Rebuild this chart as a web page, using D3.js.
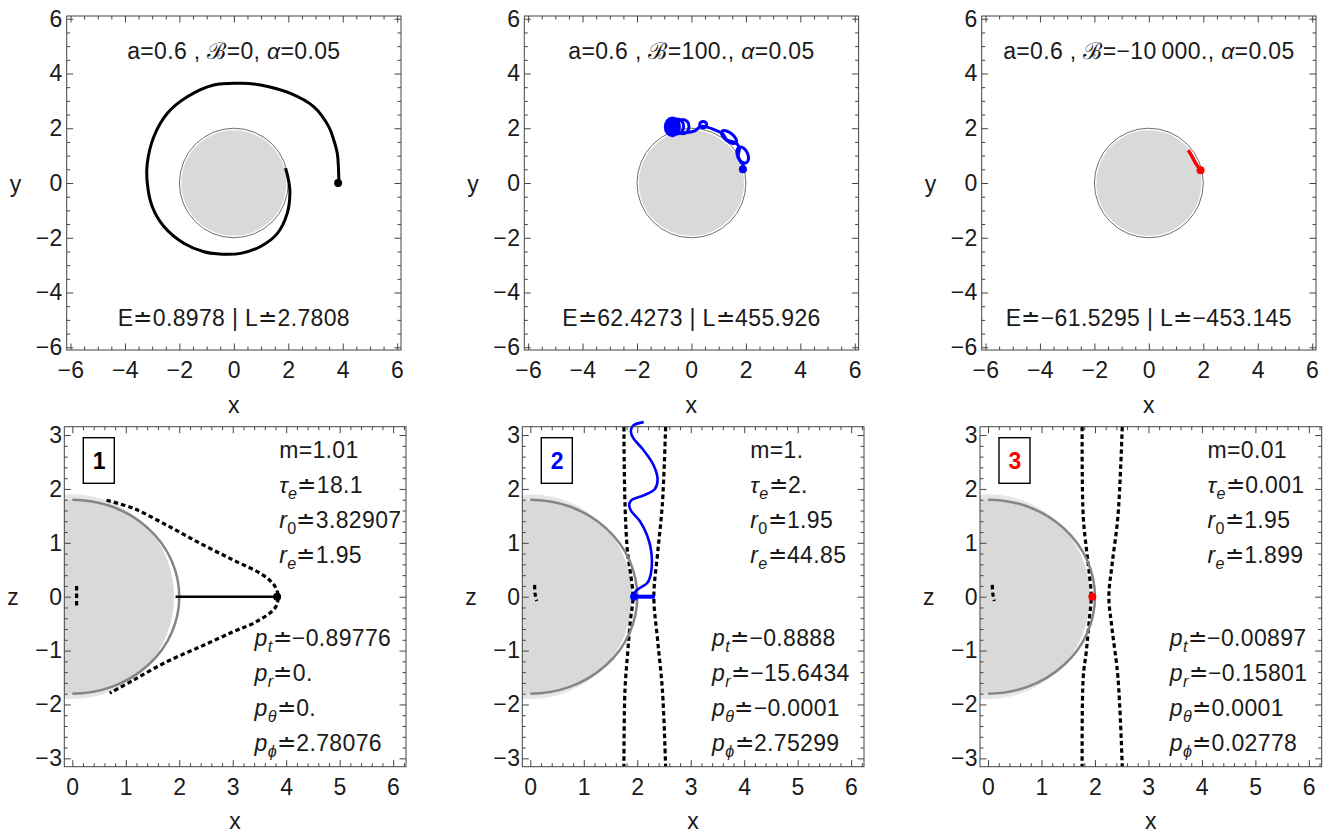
<!DOCTYPE html>
<html>
<head>
<meta charset="utf-8">
<script src="https://cdn.jsdelivr.net/npm/d3@7"></script>
<style>
  body { margin: 0; background: #fff; }
  svg text { font-family: "Liberation Sans", Arial, sans-serif; letter-spacing: 0.35px; fill: #1a1a1a; }
</style>
</head>
<body>
<svg width="1329" height="836"></svg>
<script>
// ---------- data ----------
var topTicks = [-6, -4, -2, 0, 2, 4, 6];
var botXTicks = [0, 1, 2, 3, 4, 5, 6];
var botYTicks = [-3, -2, -1, 0, 1, 2, 3];

var titles = [
  [['a=0.6 , '], ['ℬ'], ['=0, '], ['α', 'i'], ['=0.05']],
  [['a=0.6 , '], ['ℬ'], ['=100., '], ['α', 'i'], ['=0.05']],
  [['a=0.6 , '], ['ℬ'], ['=−10\u2009000., '], ['α', 'i'], ['=0.05']]
];
var energies = ['E≐0.8978 | L≐2.7808', 'E≐62.4273 | L≐455.926', 'E≐−61.5295 | L≐−453.145'];

// top row (x, y) trajectories
var spiralXY = [[3.86,0],[3.84,0.6],[3.80,1.08],[3.67,1.57],[3.49,2.05],[2.94,2.78],[2.08,3.27],[0.98,3.58],
  [0.25,3.64],[-0.74,3.58],[-1.71,3.15],[-2.45,2.54],[-2.94,1.69],[-3.18,0.72],[-3.18,0],[-3.0,-0.86],
  [-2.57,-1.59],[-1.84,-2.2],[-1.10,-2.51],[-0.43,-2.60],[0.25,-2.57],[0.98,-2.32],[1.60,-1.84],
  [1.96,-1.11],[2.06,-0.38],[2.02,0.05],[1.90,0.54]];
var blueXY = [[1.89,0.50],[1.90,0.66],[1.80,0.78],[1.72,1.0],[1.76,1.27],[1.63,1.47],[1.31,1.57],[1.14,1.80],
  [0.85,1.94],[0.55,2.05],[0.33,2.06],[0.12,1.90],[-0.12,1.85],[-0.35,1.83],[-0.55,1.85]];
// loops of the blue orbit: cx, cy, rx, ry, tilt (deg), dense coil
var blueLoops = [[1.88,1.02,0.19,0.31,-25,0],[1.38,1.68,0.33,0.15,38,0],[0.43,2.13,0.13,0.12,0,0],
  [-0.31,2.06,0.22,0.26,0,0],[-0.50,2.07,0.21,0.27,0,0],[-0.70,2.05,0.26,0.32,0,1]];
var redXY = [[1.90,0.47],[1.72,0.72],[1.58,0.98],[1.45,1.20]];
var startXY = [[3.83,0],[1.89,0.50],[1.90,0.47]];
var trajColors = ['#000000', '#0000ff', '#ff0000'];

// bottom row (x, z)
var boxLabels = ['1', '2', '3'];
var mVals = ['1.01', '1.', '0.01'];
var tauVals = ['18.1', '2.', '0.001'];
var r0Vals = ['3.82907', '1.95', '1.95'];
var reVals = ['1.95', '44.85', '1.899'];
var ptVals = ['−0.89776', '−0.8888', '−0.00897'];
var prVals = ['0.', '−15.6434', '−0.15801'];
var pthVals = ['0.', '−0.0001', '0.0001'];
var pphVals = ['2.78076', '2.75299', '0.02778'];

var dash1 = [[0.64,1.79],[1.14,1.64],[1.76,1.33],[2.39,0.99],[3.01,0.68],[3.57,0.40],[3.79,0.19],[3.85,0],
  [3.79,-0.21],[3.45,-0.46],[3.01,-0.65],[2.39,-0.93],[1.76,-1.21],[1.14,-1.55],[0.70,-1.79]];
var dashL2 = [[1.75,3.15],[1.77,1.73],[1.82,0.8],[1.87,0.46],[1.92,0],[1.87,-0.46],[1.82,-1.05],[1.77,-1.73],[1.75,-3.15]];
var dashR2 = [[2.53,3.15],[2.47,1.73],[2.38,0.8],[2.31,0],[2.38,-0.8],[2.47,-1.73],[2.53,-3.15]];
var dashL3 = [[1.76,3.15],[1.78,1.5],[1.85,0.8],[1.89,0.46],[1.93,0],[1.89,-0.46],[1.84,-1.0],[1.78,-1.5],[1.76,-3.15]];
var dashR3 = [[2.51,3.15],[2.43,1.5],[2.32,0.6],[2.26,0],[2.32,-0.6],[2.43,-1.5],[2.51,-3.15]];
var innerDash = [[[0.08,0.2],[0.08,-0.2]], [[0.08,0.22],[0.09,0.05],[0.12,-0.08]], [[0.08,0.22],[0.09,0.05],[0.12,-0.08]]];
var planeXZ = [[1.93,0],[3.83,0]];
var blueXZ = [[1.95,0.02],[1.97,0.1],[2.06,0.17],[2.19,0.26],[2.26,0.46],[2.26,0.85],[2.18,1.15],[2.05,1.40],
  [1.88,1.60],[1.85,1.72],[1.90,1.80],[2.12,1.88],[2.33,2.0],[2.38,2.18],[2.30,2.45],[2.10,2.74],[1.92,2.95],
  [1.88,3.08],[1.93,3.18],[2.12,3.24]];
var blueBarXZ = [[1.94,0],[2.33,0]];
var startXZ = [[3.83,0],[1.94,0],[1.95,0]];

var horizonR = 1.9, ergoEq = 2.0, ergoPole = 1.8;

// ---------- layout ----------
var svg = d3.select('svg');
var topX0 = [66.7, 524.3, 981.7], TOPW = 334.3, TOPY0 = 16, TOPY1 = 350;
var botX0 = [64.3, 522.3, 980], BOTW = 341.7, BOTY0 = 426.7, BOTY1 = 766.7;
var FS = 23;
var TICK = '#444';
var fmt = d3.format('d');

function minorOf(lo, hi, step, majors) {
  return d3.range(lo, hi + 1e-9, step).filter(function(v) {
    return !majors.some(function(m) { return Math.abs(m - v) < 1e-6; });
  });
}

function frame(g, x, y, xt, xm, yt, ym, padX, padY) {
  var r = x.range(), d = y.range();
  var bottom = g.append('g').attr('transform', 'translate(0,' + d[0] + ')')
    .call(d3.axisBottom(x).tickValues(xt).tickFormat(fmt).tickSize(-6.5).tickPadding(padX));
  var left = g.append('g').attr('transform', 'translate(' + r[0] + ',0)')
    .call(d3.axisLeft(y).tickValues(yt).tickFormat(fmt).tickSize(-6.5).tickPadding(padY));
  [bottom, left].forEach(function(a) {
    a.attr('font-size', FS).attr('font-family', null);
    a.selectAll('text').attr('fill', '#1a1a1a');
  });
  var blank = function() { return ''; };
  var parts = [
    [d3.axisBottom(x).tickValues(xm).tickSize(-3.5), 'translate(0,' + d[0] + ')'],
    [d3.axisTop(x).tickValues(xt).tickSize(-6.5), 'translate(0,' + d[1] + ')'],
    [d3.axisTop(x).tickValues(xm).tickSize(-3.5), 'translate(0,' + d[1] + ')'],
    [d3.axisLeft(y).tickValues(ym).tickSize(-3.5), 'translate(' + r[0] + ',0)'],
    [d3.axisRight(y).tickValues(yt).tickSize(-6.5), 'translate(' + r[1] + ',0)'],
    [d3.axisRight(y).tickValues(ym).tickSize(-3.5), 'translate(' + r[1] + ',0)']
  ];
  parts.forEach(function(p) {
    g.append('g').attr('transform', p[1]).call(p[0].tickFormat(blank));
  });
  g.selectAll('.domain').remove();
  g.selectAll('.tick line').attr('stroke', TICK);
  g.append('rect').attr('x', r[0]).attr('y', d[1]).attr('width', r[1] - r[0]).attr('height', d[0] - d[1])
    .attr('fill', 'none').attr('stroke', TICK).attr('stroke-width', 1);
}

function richText(g, parts, x, y, size) {
  var t = g.append('text').attr('x', x).attr('y', y).attr('font-size', size);
  var sub = false;
  parts.forEach(function(p) {
    var st = p[1] || '';
    var ts = t.append('tspan').text(p[0]);
    if (st.indexOf('i') >= 0) ts.attr('font-style', 'italic');
    if (st.indexOf('s') >= 0) {
      ts.attr('font-size', size * 0.7);
      if (!sub) ts.attr('dy', 6);
      sub = true;
    } else if (sub) {
      ts.attr('dy', -6);
      sub = false;
    }
  });
  return t;
}

function block(g, lines, cx, y0, step) {
  var ts = lines.map(function(l, i) { return richText(g, l, 0, y0 + i * step, FS); });
  var w = d3.max(ts, function(t) { return t.node().getComputedTextLength(); });
  ts.forEach(function(t) { t.attr('x', cx - w / 2); });
}

// ---------- top row ----------
var tYm = minorOf(-6, 6, 0.5, topTicks);
topX0.forEach(function(x0, i) {
  var g = svg.append('g');
  var x = d3.scaleLinear().domain([-6.14, 6.14]).range([x0, x0 + TOPW]);
  var y = d3.scaleLinear().domain([-6.1, 6.1]).range([TOPY1, TOPY0]);
  var ux = x(1) - x(0), uy = y(0) - y(1);

  g.append('ellipse').attr('cx', x(0)).attr('cy', y(0)).attr('rx', 1.93 * ux).attr('ry', 1.93 * uy)
    .attr('fill', '#d9d9d9');
  g.append('ellipse').attr('cx', x(0)).attr('cy', y(0)).attr('rx', ergoEq * ux).attr('ry', ergoEq * uy)
    .attr('fill', 'none').attr('stroke', '#6e6e6e').attr('stroke-width', 1);

  var line = d3.line().x(function(d) { return x(d[0]); }).y(function(d) { return y(d[1]); })
    .curve(d3.curveCatmullRom.alpha(0.5));
  var col = trajColors[i];
  if (i === 0) {
    g.append('path').attr('d', line(spiralXY)).attr('fill', 'none').attr('stroke', col).attr('stroke-width', 3);
  } else if (i === 1) {
    g.append('path').attr('d', line(blueXY)).attr('fill', 'none').attr('stroke', col).attr('stroke-width', 3);
    g.selectAll('ellipse.loop').data(blueLoops).enter().append('ellipse').attr('class', 'loop')
      .attr('cx', function(d) { return x(d[0]); }).attr('cy', function(d) { return y(d[1]); })
      .attr('rx', function(d) { return d[2] * ux; }).attr('ry', function(d) { return d[3] * uy; })
      .attr('transform', function(d) { return 'rotate(' + d[4] + ',' + x(d[0]) + ',' + y(d[1]) + ')'; })
      .attr('fill', function(d) { return d[5] ? col : 'none'; })
      .attr('stroke', col).attr('stroke-width', 3);
  } else {
    g.append('path').attr('d', line(redXY)).attr('fill', 'none').attr('stroke', col).attr('stroke-width', 3.5);
  }
  g.append('circle').attr('cx', x(startXY[i][0])).attr('cy', y(startXY[i][1])).attr('r', 4).attr('fill', col);

  frame(g, x, y, topTicks, tYm, topTicks, tYm, 12, 4);

  richText(g, titles[i], x(0), 59, FS).attr('text-anchor', 'middle');
  g.append('text').attr('x', x(0)).attr('y', 326).attr('font-size', FS).attr('text-anchor', 'middle').text(energies[i]);
  g.append('text').attr('x', x(0)).attr('y', 413).attr('font-size', FS).attr('text-anchor', 'middle').text('x');
  g.append('text').attr('x', x0 - 51).attr('y', 192).attr('font-size', FS).attr('text-anchor', 'middle').text('y');
});

// ---------- bottom row ----------
var bXm = minorOf(0, 6.2, 0.2, botXTicks), bYm = minorOf(-3, 3, 0.2, botYTicks);
var dashSets = [[dash1], [dashL2, dashR2], [dashL3, dashR3]];
var defs = svg.append('defs');
botX0.forEach(function(x0, i) {
  var g = svg.append('g');
  var x = d3.scaleLinear().domain([-0.15, 6.24]).range([x0, x0 + BOTW]);
  var y = d3.scaleLinear().domain([-3.155, 3.155]).range([BOTY1, BOTY0]);
  var ux = x(1) - x(0), uy = y(0) - y(1);
  var col = trajColors[i];
  var line = d3.line().x(function(d) { return x(d[0]); }).y(function(d) { return y(d[1]); })
    .curve(d3.curveCatmullRom.alpha(0.5));
  var straight = d3.line().x(function(d) { return x(d[0]); }).y(function(d) { return y(d[1]); });

  defs.append('clipPath').attr('id', 'fr' + i).append('rect')
    .attr('x', x0).attr('y', BOTY0).attr('width', BOTW).attr('height', BOTY1 - BOTY0);
  defs.append('clipPath').attr('id', 'er' + i).append('ellipse')
    .attr('cx', x(0)).attr('cy', y(0)).attr('rx', ergoEq * ux).attr('ry', ergoPole * uy);

  g.append('ellipse').attr('clip-path', 'url(#fr' + i + ')')
    .attr('cx', x(0)).attr('cy', y(0)).attr('rx', horizonR * ux).attr('ry', horizonR * uy).attr('fill', '#e6e6e6');
  g.append('g').attr('clip-path', 'url(#fr' + i + ')').append('ellipse').attr('clip-path', 'url(#er' + i + ')')
    .attr('cx', x(0)).attr('cy', y(0)).attr('rx', horizonR * ux).attr('ry', horizonR * uy).attr('fill', '#d9d9d9');

  dashSets[i].forEach(function(c) {
    g.append('path').attr('d', line(c)).attr('fill', 'none').attr('stroke', '#000')
      .attr('stroke-width', 3.2).attr('stroke-dasharray', '4.5,3');
  });
  g.append('path').attr('d', line(innerDash[i])).attr('fill', 'none').attr('stroke', '#000')
    .attr('stroke-width', 3.2).attr('stroke-dasharray', '4.5,3');

  g.append('path')
    .attr('d', 'M' + x(0) + ',' + y(ergoPole) + ' A' + (ergoEq * ux) + ',' + (ergoPole * uy) + ' 0 0 1 ' + x(0) + ',' + y(-ergoPole))
    .attr('fill', 'none').attr('stroke', '#858585').attr('stroke-width', 2.5);

  if (i === 0) {
    g.append('path').attr('d', straight(planeXZ)).attr('stroke', '#000').attr('stroke-width', 2.5);
  } else if (i === 1) {
    g.append('path').attr('d', line(blueXZ)).attr('fill', 'none').attr('stroke', col).attr('stroke-width', 2.6);
    g.append('path').attr('d', straight(blueBarXZ)).attr('stroke', col).attr('stroke-width', 4);
  }
  g.append('circle').attr('cx', x(startXZ[i][0])).attr('cy', y(startXZ[i][1])).attr('r', 4).attr('fill', col);

  frame(g, x, y, botXTicks, bXm, botYTicks, bYm, 12, 2);

  g.append('rect').attr('x', x0 + 19).attr('y', 437.7).attr('width', 31).attr('height', 45.6)
    .attr('fill', '#fff').attr('stroke', '#000').attr('stroke-width', 1.4);
  g.append('text').attr('x', x0 + 35).attr('y', 469).attr('font-size', FS).attr('font-weight', 'bold')
    .attr('text-anchor', 'middle').style('fill', col).text(boxLabels[i]);

  block(g, [
    [['m=' + mVals[i]]],
    [['τ', 'i'], ['e', 'is'], ['≐' + tauVals[i]]],
    [['r', 'i'], ['0', 's'], ['≐' + r0Vals[i]]],
    [['r', 'i'], ['e', 'is'], ['≐' + reVals[i]]]
  ], x0 + 276, 457.5, 35);
  block(g, [
    [['p', 'i'], ['t', 'is'], ['≐' + ptVals[i]]],
    [['p', 'i'], ['r', 'is'], ['≐' + prVals[i]]],
    [['p', 'i'], ['θ', 'is'], ['≐' + pthVals[i]]],
    [['p', 'i'], ['ϕ', 'is'], ['≐' + pphVals[i]]]
  ], x0 + 258.6, 646, 35);

  g.append('text').attr('x', x0 + BOTW / 2).attr('y', 829).attr('font-size', FS).attr('text-anchor', 'middle').text('x');
  g.append('text').attr('x', x0 - 51).attr('y', 605).attr('font-size', FS).attr('text-anchor', 'middle').text('z');
});
</script>
</body>
</html>
